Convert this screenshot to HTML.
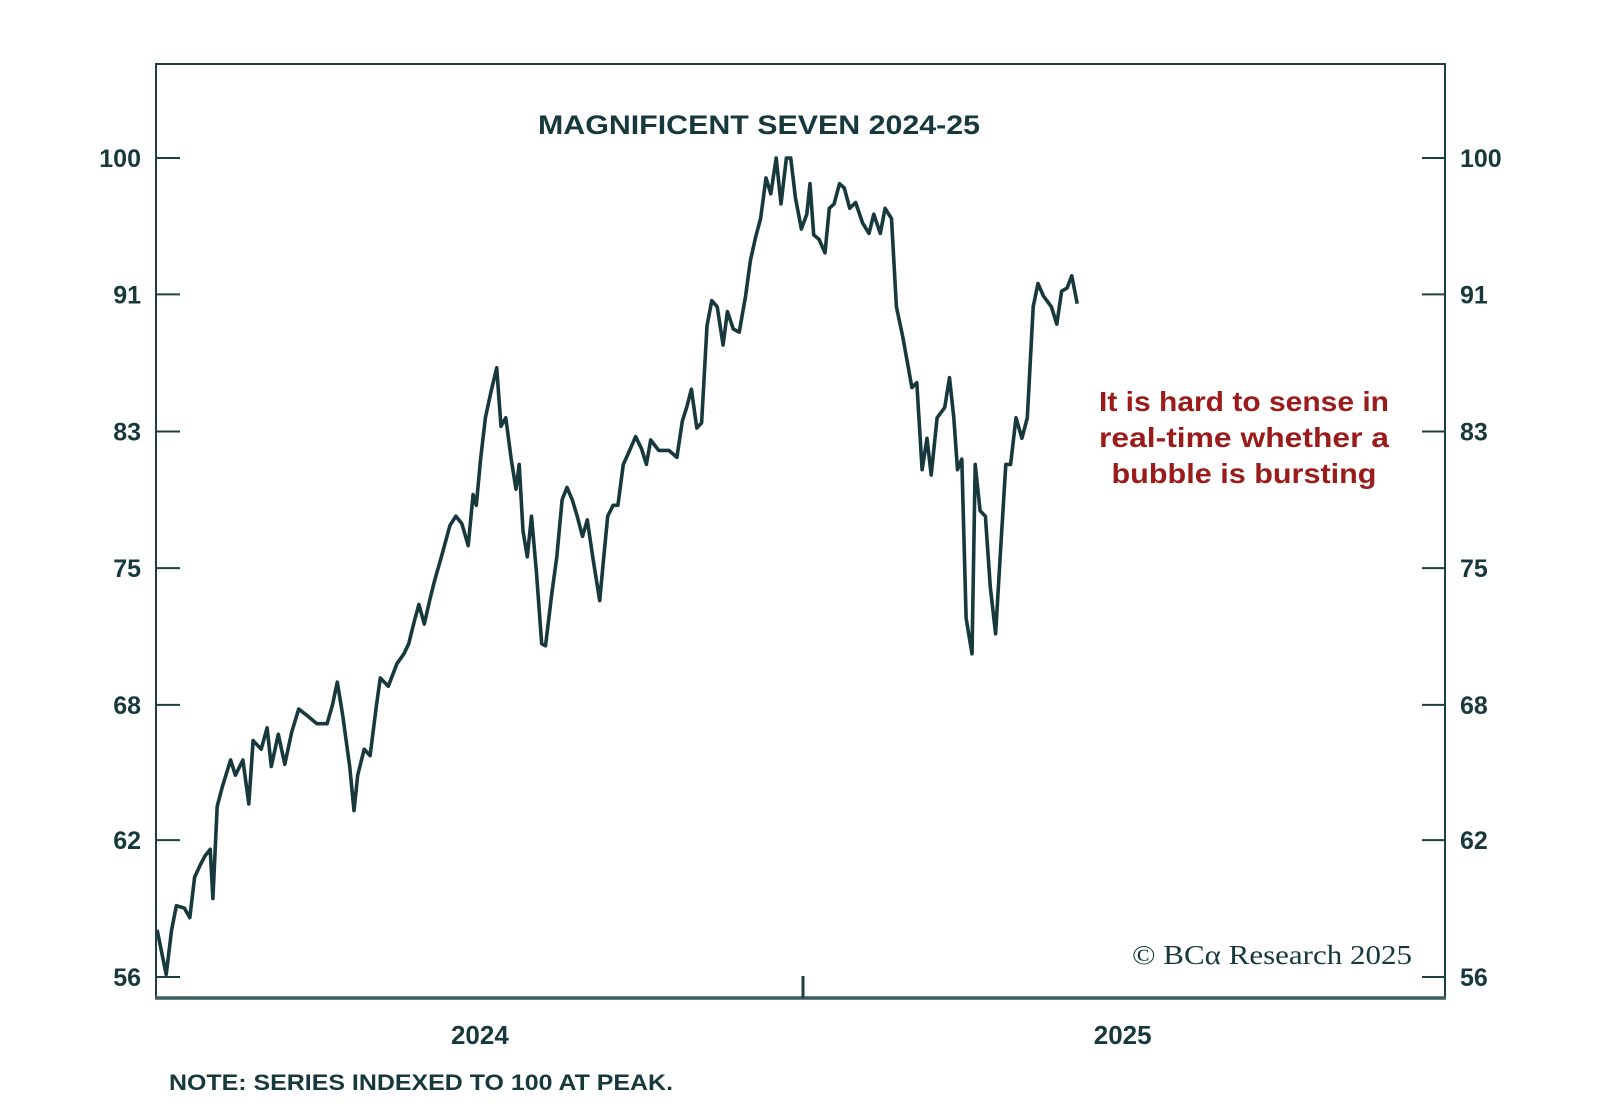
<!DOCTYPE html>
<html><head><meta charset="utf-8"><style>
html,body{margin:0;padding:0;background:#fff;}
svg{display:block;}
text{font-family:"Liberation Sans",sans-serif;fill:#17393d;}
</style></head><body>
<svg id="chart" width="1600" height="1106" viewBox="0 0 1600 1106" xmlns="http://www.w3.org/2000/svg">
<rect x="156" y="64" width="1289" height="934" fill="none" stroke="#1d3e42" stroke-width="2"/>
<line x1="155" y1="998" x2="1446" y2="998" stroke="#3c5c60" stroke-width="3.5"/>
<g id="yticks"></g>
<g id="xticks"></g>
<path id="series" fill="none" stroke="#17393d" stroke-width="3.6" stroke-linejoin="round"/>
<text x="759" y="134" text-anchor="middle" font-size="27" font-weight="bold" textLength="442" lengthAdjust="spacingAndGlyphs">MAGNIFICENT SEVEN 2024-25</text>
<g font-size="28" font-weight="bold">
<text x="1244" y="411" text-anchor="middle" style="fill:#9b1a1a" textLength="290" lengthAdjust="spacingAndGlyphs">It is hard to sense in</text>
<text x="1244" y="447" text-anchor="middle" style="fill:#9b1a1a" textLength="290" lengthAdjust="spacingAndGlyphs">real-time whether a</text>
<text x="1244" y="483" text-anchor="middle" style="fill:#9b1a1a" textLength="265" lengthAdjust="spacingAndGlyphs">bubble is bursting</text>
</g>
<text x="1412" y="964" text-anchor="end" font-size="27" style="font-family:'Liberation Serif',serif" textLength="280" lengthAdjust="spacingAndGlyphs">© BCα Research 2025</text>
<text x="169" y="1090" font-size="22" font-weight="bold" textLength="504" lengthAdjust="spacingAndGlyphs">NOTE: SERIES INDEXED TO 100 AT PEAK.</text>
</svg>
<script>
const months = [0.02,0.19,0.29,0.38,0.53,0.63,0.72,0.82,0.91,1.01,1.06,1.14,1.24,1.39,1.48,1.62,1.73,1.81,1.96,2.07,2.15,2.28,2.40,2.53,2.66,2.81,3.00,3.19,3.29,3.38,3.48,3.61,3.69,3.76,3.88,3.99,4.11,4.18,4.33,4.49,4.62,4.71,4.81,4.90,5.00,5.10,5.19,5.32,5.48,5.59,5.70,5.82,5.91,5.97,6.05,6.14,6.24,6.35,6.43,6.52,6.62,6.71,6.77,6.84,6.92,7.00,7.09,7.19,7.26,7.38,7.47,7.57,7.66,7.76,7.85,7.95,8.04,8.14,8.27,8.33,8.42,8.52,8.61,8.71,8.80,8.94,9.05,9.14,9.22,9.37,9.56,9.71,9.81,9.89,9.98,10.08,10.17,10.27,10.36,10.46,10.57,10.65,10.76,10.87,10.99,11.08,11.18,11.27,11.37,11.46,11.56,11.65,11.75,11.83,11.92,12.03,12.13,12.19,12.26,12.36,12.47,12.55,12.64,12.74,12.83,12.93,13.04,13.17,13.29,13.38,13.50,13.59,13.71,13.80,13.92,13.99,14.09,14.18,14.28,14.37,14.45,14.56,14.70,14.79,14.87,14.94,15.02,15.10,15.21,15.27,15.36,15.46,15.55,15.65,15.74,15.84,15.93,16.03,16.14,16.24,16.35,16.44,16.54,16.69,16.79,16.88,16.98,17.07,17.17];
const values = [57.9,56.1,57.9,58.9,58.8,58.4,60.1,60.6,61.0,61.3,59.2,63.2,64.1,65.3,64.6,65.3,63.3,66.2,65.8,66.8,65.0,66.5,65.1,66.6,67.7,67.4,67.0,67.0,67.9,69.0,67.4,65.0,63.0,64.6,65.8,65.5,67.9,69.2,68.8,69.9,70.4,70.9,72.0,72.9,71.9,73.1,74.1,75.4,77.1,77.6,77.2,76.0,78.8,78.2,80.8,83.2,84.7,86.2,82.7,83.2,80.8,79.1,80.5,76.8,75.4,77.6,74.6,70.9,70.8,73.5,75.4,78.5,79.2,78.5,77.6,76.5,77.4,75.4,73.1,74.9,77.6,78.2,78.2,80.5,81.1,82.1,81.4,80.5,81.9,81.3,81.3,80.9,83.0,83.8,84.9,82.6,82.9,88.8,90.4,90.0,87.6,89.7,88.6,88.4,90.7,93.0,94.6,95.8,98.6,97.5,100,96.8,100,100,97.2,95.1,96.1,98.2,94.7,94.4,93.5,96.5,96.8,98.2,97.9,96.5,96.9,95.5,94.8,96.1,94.8,96.5,95.8,90.0,88.1,86.8,85.0,85.3,80.2,82.0,79.9,83.2,83.8,85.6,83.2,80.2,80.8,72.2,70.4,80.5,77.9,77.6,73.8,71.4,75.7,80.5,80.5,83.2,82.0,83.2,90.0,91.5,90.7,90.0,88.9,91.0,91.2,92.0,90.2];
const yTickValues = [100, 90.8, 82.4, 74.8, 67.9, 61.7, 56];
const yTickLabels = ["100","91","83","75","68","62","56"];
const xYearLabels = ["2024","2025"];
const xYearCenters = [6, 18];
const xYearBoundaries = [12.06];

const X0 = 156, MPX = 53.65;
const Y100 = 158, Y56 = 977;
const xs = m => X0 + m * MPX;
const ys = v => Y100 + (Math.log(100) - Math.log(v)) / (Math.log(100) - Math.log(56)) * (Y56 - Y100);
const NS = "http://www.w3.org/2000/svg";

let d = "";
months.forEach((m, i) => { d += (i ? "L" : "M") + xs(m).toFixed(1) + "," + ys(values[i]).toFixed(1); });
document.getElementById("series").setAttribute("d", d);

const yg = document.getElementById("yticks");
yTickValues.forEach((v, i) => {
  const y = ys(v);
  [[156, 180], [1422, 1445]].forEach(([a, b]) => {
    const l = document.createElementNS(NS, "line");
    
    
    l.setAttribute("x1", a); l.setAttribute("x2", b);
    l.setAttribute("y1", y); l.setAttribute("y2", y);
    l.setAttribute("stroke", "#1d3e42"); l.setAttribute("stroke-width", "2");
    yg.appendChild(l);
  });
  const tl = document.createElementNS(NS, "text");
  
  
  tl.setAttribute("x", 141); tl.setAttribute("y", y + 9);
  tl.setAttribute("text-anchor", "end"); tl.setAttribute("font-size", "25"); tl.setAttribute("font-weight", "bold");
  tl.textContent = yTickLabels[i];
  yg.appendChild(tl);
  const tr = document.createElementNS(NS, "text");
  
  
  tr.setAttribute("x", 1460); tr.setAttribute("y", y + 9);
  tr.setAttribute("font-size", "25"); tr.setAttribute("font-weight", "bold");
  tr.textContent = yTickLabels[i];
  yg.appendChild(tr);
});

const xg = document.getElementById("xticks");
xYearBoundaries.forEach(m => {
  const l = document.createElementNS(NS, "line");
  
  
  l.setAttribute("x1", xs(m)); l.setAttribute("x2", xs(m));
  l.setAttribute("y1", 976); l.setAttribute("y2", 998);
  l.setAttribute("stroke", "#1d3e42"); l.setAttribute("stroke-width", "3");
  xg.appendChild(l);
});
xYearLabels.forEach((t, i) => {
  const tx = document.createElementNS(NS, "text");
  
  
  tx.setAttribute("x", xs(xYearCenters[i]) + (i === 0 ? 2 : 1)); tx.setAttribute("y", 1044);
  tx.setAttribute("text-anchor", "middle"); tx.setAttribute("font-size", "26"); tx.setAttribute("font-weight", "bold");
  tx.textContent = t;
  xg.appendChild(tx);
});
</script>
</body></html>
